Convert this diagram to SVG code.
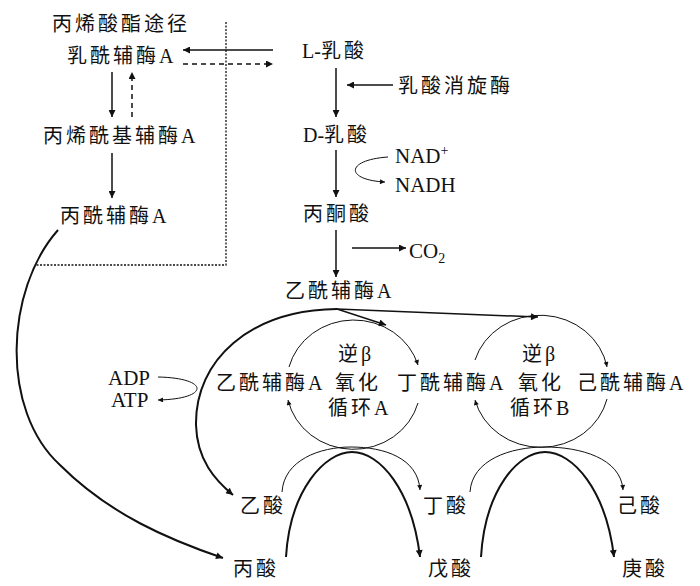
<svg xmlns="http://www.w3.org/2000/svg" width="700" height="586" viewBox="0 0 700 586">
<style>
text{font-family:"Liberation Serif","Noto Sans CJK SC",serif;fill:#111}
.c{font-size:20px;letter-spacing:3px}
.z{letter-spacing:0}
.l{font-size:21px}
.s{font-size:14px}
.ln{fill:none;stroke:#111;stroke-width:1.5}
.tk{fill:none;stroke:#111;stroke-width:2}
.tn{fill:none;stroke:#111;stroke-width:1}
.da{fill:none;stroke:#111;stroke-width:1.5;stroke-dasharray:5 4}
.dt{fill:none;stroke:#111;stroke-width:1.3;stroke-dasharray:2 1.5}
</style>
<defs>
<marker id="ah" viewBox="0 0 10 10" refX="10" refY="5" markerWidth="10" markerHeight="7" markerUnits="userSpaceOnUse" orient="auto"><path d="M0,0 L10,5 L0,10 z" fill="#111"/></marker>
<marker id="as" viewBox="0 0 10 10" refX="10" refY="5" markerWidth="7" markerHeight="5" markerUnits="userSpaceOnUse" orient="auto"><path d="M0,0 L10,5 L0,10 z" fill="#111"/></marker>
</defs>
<g id="connectors">
<path class="dt" d="M226,22 V265 H35"/>
<path class="ln" d="M273,50 H183" marker-end="url(#ah)"/>
<path class="da" d="M183,64 H273" marker-end="url(#ah)"/>
<path class="ln" d="M112,72 V117" marker-end="url(#ah)"/>
<path class="da" d="M132,117 V72" marker-end="url(#ah)"/>
<path class="ln" d="M112,153 V198" marker-end="url(#ah)"/>
<path class="ln" d="M336,68 V117" marker-end="url(#ah)"/>
<path class="ln" d="M393,85 H347" marker-end="url(#ah)"/>
<path class="ln" d="M336,150 V197" marker-end="url(#ah)"/>
<path class="tn" d="M388,157 C345,160 345,180 385,182" marker-end="url(#as)"/>
<path class="ln" d="M336,230 V277" marker-end="url(#ah)"/>
<path class="ln" d="M352,248 H406" marker-end="url(#ah)"/>
<path class="tk" d="M58,230 C5,290 0,410 60,465 C110,515 170,540 223,558" marker-end="url(#ah)"/>
<path class="tk" d="M337,309 C250,310 195,360 196,425 C197,460 215,480 233,495" marker-end="url(#ah)"/>
<path class="ln" d="M337,309 L386,325" marker-end="url(#ah)"/>
<path class="ln" d="M337,309 L538,317" marker-end="url(#ah)"/>
<path class="tn" d="M158,377 C210,378 210,399 158,400" marker-end="url(#as)"/>
<path class="tn" d="M289,367 A67,63 0 0 1 418,365" marker-end="url(#as)"/>
<path class="tn" d="M418,403 A67,63 0 0 1 288,400" marker-end="url(#as)"/>
<path class="tn" d="M475,360 A68,63 0 0 1 607,367" marker-end="url(#as)"/>
<path class="tn" d="M607,399 A68,63 0 0 1 475,400" marker-end="url(#as)"/>
<path class="tn" d="M282,492 C284,460 320,447 351,447 C384,447 418,458 420,490" marker-end="url(#as)"/>
<path class="tn" d="M470,492 C472,460 510,447 545,447 C580,447 621,458 623,490" marker-end="url(#as)"/>
<path class="tk" d="M286,557 C290,490 325,452 352,452 C380,452 412,490 420,557" marker-end="url(#ah)"/>
<path class="tk" d="M481,557 C485,490 518,452 545,452 C573,452 606,490 614,557" marker-end="url(#ah)"/>
</g>
<g id="n-title"><text class="c" x="52" y="31">丙烯酸酯途径</text></g>
<g id="n-lactoyl"><text class="c" x="67" y="63">乳酰辅酶A</text></g>
<g id="n-acryloyl"><text class="c" x="43" y="143">丙烯酰基辅酶A</text></g>
<g id="n-propionyl"><text class="c" x="60" y="223">丙酰辅酶A</text></g>
<g id="n-llac"><text class="c" x="302" y="58"><tspan class="z">L-</tspan>乳酸</text></g>
<g id="n-racemase"><text class="c" x="398" y="93">乳酸消旋酶</text></g>
<g id="n-dlac"><text class="c" x="303" y="142"><tspan class="z">D-</tspan>乳酸</text></g>
<g id="n-nad"><text class="l" x="395" y="163">NAD<tspan class="s" dy="-8">+</tspan></text></g>
<g id="n-nadh"><text class="l" x="395" y="192">NADH</text></g>
<g id="n-pyruvate"><text class="c" x="303" y="221">丙酮酸</text></g>
<g id="n-co2"><text class="l" x="409" y="258">CO<tspan class="s" dy="5">2</tspan></text></g>
<g id="n-acetylcoa"><text class="c" x="285" y="298">乙酰辅酶A</text></g>
<g id="n-cycleA"><text class="c" x="338" y="361">逆β</text><text class="c" x="335" y="390">氧化</text><text class="c" x="328" y="415">循环A</text></g>
<g id="n-acetylcoa2"><text class="c" x="216" y="390">乙酰辅酶A</text></g>
<g id="n-butyrylcoa"><text class="c" x="397" y="390">丁酰辅酶A</text></g>
<g id="n-cycleB"><text class="c" x="522" y="361">逆β</text><text class="c" x="518" y="390">氧化</text><text class="c" x="510" y="415">循环B</text></g>
<g id="n-hexanoylcoa"><text class="c" x="577" y="390">己酰辅酶A</text></g>
<g id="n-adp"><text class="l" x="108" y="385">ADP</text></g>
<g id="n-atp"><text class="l" x="111" y="407">ATP</text></g>
<g id="n-acetic"><text class="c" x="240" y="513">乙酸</text></g>
<g id="n-butyric"><text class="c" x="423" y="513">丁酸</text></g>
<g id="n-hexanoic"><text class="c" x="617" y="513">己酸</text></g>
<g id="n-propionic"><text class="c" x="233" y="576">丙酸</text></g>
<g id="n-valeric"><text class="c" x="428" y="576">戊酸</text></g>
<g id="n-heptanoic"><text class="c" x="622" y="576">庚酸</text></g>
</svg>
